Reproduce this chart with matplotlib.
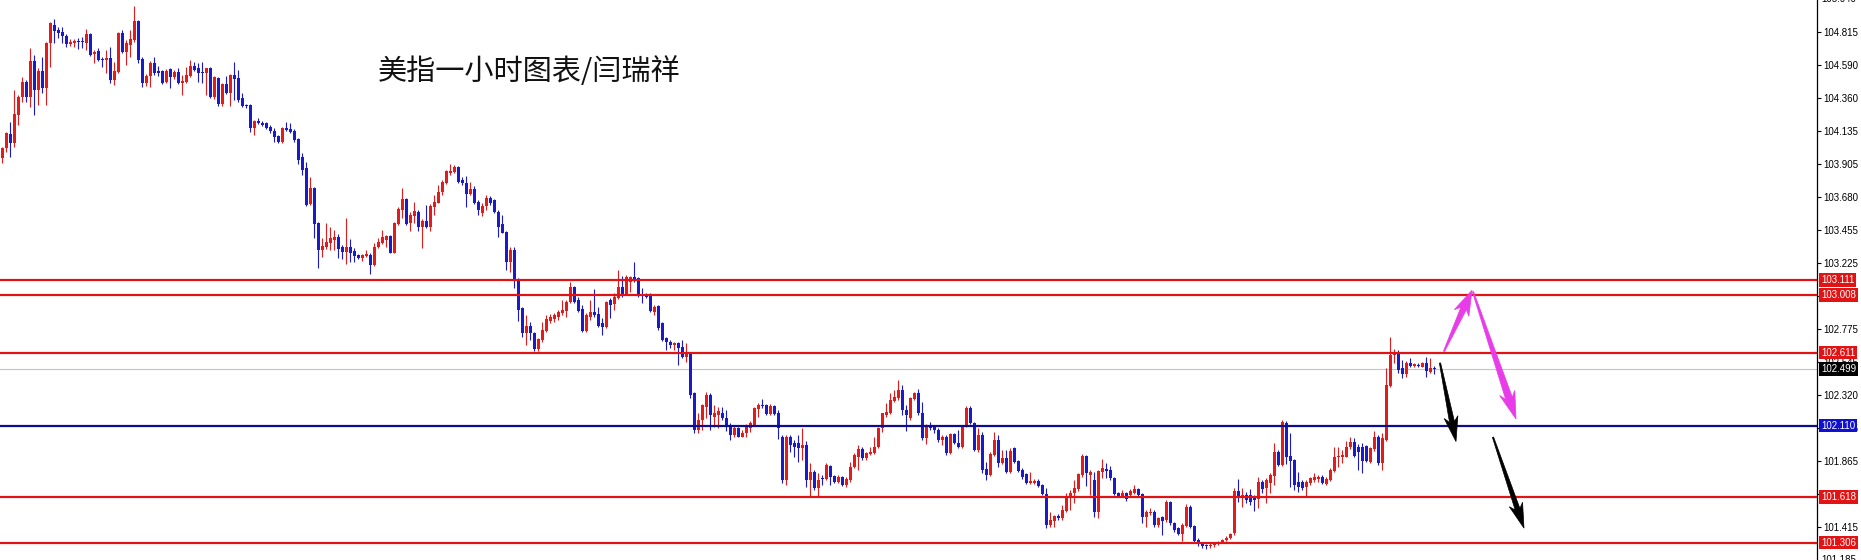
import numpy as np
import matplotlib
matplotlib.use('Agg')
import matplotlib.pyplot as plt
from matplotlib.patches import Polygon

plt.rcParams['font.family'] = ['Liberation Sans', 'DejaVu Sans']

# 美指一小时K线 (开 / 高 / 低 / 收)
opens = [
    103.947, 104.016, 104.112, 104.050, 104.245, 104.371, 104.474, 104.371, 104.616, 104.416,
    104.547, 104.428, 104.737, 104.863, 104.829, 104.813, 104.788, 104.730, 104.742, 104.753,
    104.753, 104.742, 104.801, 104.662, 104.687, 104.627, 104.623, 104.634, 104.485, 104.542,
    104.806, 104.680, 104.726, 104.760, 104.891, 104.630, 104.462, 104.513, 104.600, 104.549,
    104.549, 104.474, 104.558, 104.503, 104.542, 104.462, 104.474, 104.515, 104.584, 104.565,
    104.536, 104.531, 104.565, 104.371, 104.501, 104.320, 104.458, 104.398, 104.520, 104.497,
    104.359, 104.311, 104.313, 104.158, 104.206, 104.192, 104.187, 104.164, 104.137, 104.100,
    104.061, 104.158, 104.146, 104.135, 104.077, 103.954, 103.878, 103.633, 103.741, 103.505,
    103.317, 103.340, 103.367, 103.386, 103.409, 103.340, 103.306, 103.340, 103.310, 103.283,
    103.260, 103.276, 103.283, 103.214, 103.340, 103.367, 103.386, 103.413, 103.299, 103.496,
    103.592, 103.665, 103.500, 103.551, 103.581, 103.473, 103.519, 103.477, 103.615, 103.642,
    103.718, 103.780, 103.844, 103.855, 103.890, 103.798, 103.780, 103.702, 103.734, 103.649,
    103.568, 103.619, 103.671, 103.660, 103.580, 103.495, 103.442, 103.236, 103.316, 103.115,
    102.915, 102.744, 102.794, 102.748, 102.634, 102.698, 102.762, 102.831, 102.840, 102.858,
    102.881, 102.899, 102.961, 103.064, 102.973, 102.909, 102.762, 102.858, 102.893, 102.877,
    102.812, 102.785, 102.973, 102.945, 102.984, 103.060, 103.014, 103.099, 103.128, 103.122,
    103.014, 103.007, 103.007, 102.893, 102.931, 102.817, 102.709, 102.686, 102.663, 102.679,
    102.652, 102.583, 102.611, 102.331, 102.079, 102.148, 102.240, 102.320, 102.171, 102.182,
    102.194, 102.160, 102.114, 102.045, 102.091, 102.034, 102.057, 102.091, 102.114, 102.222,
    102.251, 102.251, 102.189, 102.244, 102.194, 102.034, 101.736, 102.034, 101.988, 101.988,
    101.954, 101.976, 101.736, 101.793, 101.679, 101.747, 101.740, 101.832, 101.763, 101.724,
    101.754, 101.702, 101.736, 101.828, 101.896, 101.947, 101.885, 101.915, 101.919, 101.960,
    102.091, 102.183, 102.194, 102.281, 102.297, 102.355, 102.217, 102.160, 102.290, 102.336,
    102.194, 102.022, 102.107, 102.098, 102.080, 102.011, 102.034, 101.924, 102.052, 101.992,
    101.961, 102.103, 102.229, 102.130, 101.942, 102.045, 101.809, 101.770, 101.908, 102.011,
    101.855, 101.885, 101.793, 101.954, 101.869, 101.805, 101.775, 101.718, 101.718, 101.732,
    101.702, 101.640, 101.427, 101.457, 101.489, 101.473, 101.525, 101.610, 101.644, 101.672,
    101.770, 101.901, 101.770, 101.736, 101.518, 101.793, 101.809, 101.805, 101.748, 101.644,
    101.626, 101.649, 101.633, 101.649, 101.672, 101.640, 101.484, 101.507, 101.518, 101.427,
    101.480, 101.461, 101.587, 101.443, 101.404, 101.365, 101.420, 101.553, 101.420, 101.324,
    101.301, 101.290, 101.280, 101.290, 101.298, 101.310, 101.322, 101.338, 101.369, 101.663,
    101.610, 101.633, 101.633, 101.621, 101.603, 101.724, 101.679, 101.718, 101.763, 101.931,
    101.839, 102.130, 101.901, 101.873, 101.724, 101.724, 101.685, 101.713, 101.736, 101.740,
    101.759, 101.708, 101.736, 101.800, 101.892, 101.896, 101.896, 101.960, 101.999, 101.965,
    101.965, 101.970, 101.862, 101.947, 102.034, 101.850, 102.011, 102.382, 102.595, 102.611,
    102.503, 102.464, 102.542, 102.519, 102.524, 102.515, 102.538, 102.480, 102.508,
]
highs = [
    104.027, 104.130, 104.199, 104.416, 104.382, 104.508, 104.485, 104.703, 104.657, 104.565,
    104.646, 104.749, 104.886, 104.904, 104.847, 104.847, 104.799, 104.765, 104.765, 104.772,
    104.783, 104.833, 104.806, 104.691, 104.703, 104.641, 104.691, 104.714, 104.611, 104.817,
    104.829, 104.760, 104.829, 104.994, 104.898, 104.646, 104.526, 104.616, 104.646, 104.584,
    104.554, 104.558, 104.565, 104.554, 104.565, 104.520, 104.577, 104.623, 104.611, 104.600,
    104.611, 104.570, 104.577, 104.513, 104.508, 104.467, 104.513, 104.526, 104.611, 104.554,
    104.394, 104.320, 104.320, 104.210, 104.222, 104.206, 104.199, 104.176, 104.153, 104.107,
    104.164, 104.199, 104.192, 104.146, 104.084, 103.981, 103.924, 103.816, 103.748, 103.512,
    103.397, 103.500, 103.477, 103.455, 103.427, 103.351, 103.535, 103.390, 103.329, 103.290,
    103.290, 103.317, 103.294, 103.363, 103.397, 103.455, 103.420, 103.420, 103.512, 103.610,
    103.741, 103.672, 103.581, 103.649, 103.592, 103.528, 103.626, 103.633, 103.695, 103.764,
    103.798, 103.867, 103.908, 103.901, 103.894, 103.821, 103.826, 103.787, 103.757, 103.661,
    103.637, 103.694, 103.690, 103.667, 103.591, 103.557, 103.449, 103.339, 103.339, 103.122,
    102.927, 102.870, 102.824, 102.755, 102.709, 102.824, 102.870, 102.877, 102.881, 102.904,
    102.973, 102.973, 103.099, 103.069, 102.996, 102.938, 102.881, 102.973, 103.046, 102.922,
    102.847, 102.968, 102.984, 103.019, 103.179, 103.138, 103.145, 103.138, 103.236, 103.133,
    103.053, 103.023, 103.023, 102.938, 102.938, 102.824, 102.721, 102.698, 102.686, 102.686,
    102.698, 102.675, 102.618, 102.343, 102.194, 102.258, 102.343, 102.331, 102.251, 102.240,
    102.235, 102.217, 102.125, 102.114, 102.102, 102.080, 102.121, 102.144, 102.240, 102.267,
    102.290, 102.258, 102.258, 102.251, 102.217, 102.045, 102.045, 102.045, 102.011, 102.045,
    102.091, 102.006, 101.850, 101.805, 101.782, 101.770, 101.850, 101.839, 101.770, 101.770,
    101.763, 101.754, 101.862, 101.919, 101.976, 101.965, 101.931, 101.965, 102.034, 102.102,
    102.199, 102.263, 102.332, 102.355, 102.423, 102.389, 102.251, 102.309, 102.343, 102.359,
    102.274, 102.121, 102.137, 102.107, 102.091, 102.045, 102.045, 102.061, 102.057, 102.080,
    102.114, 102.245, 102.245, 102.137, 102.091, 102.068, 101.862, 101.931, 102.068, 102.045,
    101.942, 101.942, 101.954, 101.961, 101.874, 101.816, 101.782, 101.793, 101.741, 101.741,
    101.709, 101.679, 101.518, 101.496, 101.502, 101.564, 101.644, 101.667, 101.736, 101.782,
    101.915, 101.908, 101.805, 101.793, 101.805, 101.878, 101.855, 101.832, 101.759, 101.656,
    101.667, 101.656, 101.672, 101.702, 101.679, 101.644, 101.530, 101.541, 101.530, 101.480,
    101.489, 101.599, 101.594, 101.450, 101.415, 101.438, 101.571, 101.564, 101.427, 101.335,
    101.310, 101.298, 101.300, 101.310, 101.320, 101.332, 101.350, 101.372, 101.679, 101.740,
    101.679, 101.656, 101.672, 101.633, 101.759, 101.736, 101.747, 101.782, 101.988, 101.942,
    102.148, 102.144, 102.057, 101.878, 101.793, 101.736, 101.736, 101.759, 101.786, 101.770,
    101.770, 101.759, 101.816, 101.965, 101.965, 101.942, 102.006, 102.029, 102.022, 101.983,
    101.988, 101.976, 101.965, 102.075, 102.045, 102.057, 102.503, 102.716, 102.634, 102.629,
    102.561, 102.556, 102.572, 102.542, 102.542, 102.549, 102.584, 102.572, 102.519,
]
lows = [
    103.912, 103.993, 103.958, 104.027, 104.176, 104.336, 104.336, 104.302, 104.245, 104.313,
    104.394, 104.313, 104.577, 104.742, 104.772, 104.737, 104.710, 104.721, 104.714, 104.696,
    104.703, 104.691, 104.650, 104.600, 104.618, 104.577, 104.531, 104.462, 104.451, 104.531,
    104.673, 104.588, 104.646, 104.744, 104.600, 104.439, 104.444, 104.439, 104.520, 104.513,
    104.458, 104.462, 104.428, 104.490, 104.458, 104.382, 104.462, 104.508, 104.549, 104.474,
    104.467, 104.382, 104.359, 104.352, 104.306, 104.306, 104.389, 104.306, 104.348, 104.336,
    104.302, 104.290, 104.130, 104.107, 104.183, 104.169, 104.146, 104.123, 104.061, 104.055,
    104.055, 104.137, 104.119, 104.061, 103.908, 103.833, 103.619, 103.626, 103.397, 103.191,
    103.267, 103.322, 103.317, 103.317, 103.260, 103.253, 103.221, 103.237, 103.237, 103.253,
    103.244, 103.267, 103.152, 103.207, 103.329, 103.358, 103.340, 103.294, 103.294, 103.489,
    103.535, 103.489, 103.450, 103.505, 103.450, 103.329, 103.466, 103.450, 103.558, 103.638,
    103.695, 103.771, 103.833, 103.844, 103.780, 103.764, 103.610, 103.695, 103.633, 103.558,
    103.550, 103.591, 103.626, 103.568, 103.403, 103.431, 103.179, 103.167, 103.053, 102.831,
    102.721, 102.663, 102.698, 102.624, 102.624, 102.686, 102.755, 102.817, 102.824, 102.835,
    102.870, 102.858, 102.954, 102.950, 102.893, 102.755, 102.755, 102.835, 102.858, 102.789,
    102.732, 102.778, 102.847, 102.904, 102.977, 102.991, 103.007, 103.030, 103.099, 102.996,
    102.950, 102.984, 102.893, 102.870, 102.767, 102.693, 102.629, 102.640, 102.629, 102.526,
    102.572, 102.549, 102.297, 102.056, 102.056, 102.079, 102.159, 102.079, 102.102, 102.091,
    102.148, 102.075, 102.011, 102.034, 102.029, 102.029, 102.029, 102.068, 102.107, 102.167,
    102.228, 102.183, 102.183, 102.183, 102.015, 101.713, 101.702, 101.931, 101.896, 101.862,
    101.873, 101.690, 101.626, 101.667, 101.626, 101.702, 101.736, 101.702, 101.713, 101.713,
    101.695, 101.690, 101.724, 101.816, 101.805, 101.873, 101.873, 101.908, 101.915, 101.954,
    102.068, 102.171, 102.189, 102.274, 102.286, 102.183, 102.075, 102.148, 102.286, 102.183,
    102.011, 101.983, 102.080, 102.057, 101.999, 101.976, 101.908, 101.915, 101.983, 101.954,
    101.954, 102.098, 102.121, 101.938, 101.931, 101.786, 101.736, 101.765, 101.901, 101.828,
    101.846, 101.786, 101.782, 101.855, 101.793, 101.741, 101.709, 101.709, 101.709, 101.686,
    101.633, 101.404, 101.415, 101.415, 101.461, 101.461, 101.518, 101.530, 101.580, 101.663,
    101.759, 101.695, 101.633, 101.480, 101.473, 101.748, 101.748, 101.736, 101.633, 101.622,
    101.617, 101.594, 101.626, 101.640, 101.626, 101.443, 101.415, 101.496, 101.415, 101.415,
    101.358, 101.450, 101.427, 101.381, 101.358, 101.319, 101.415, 101.404, 101.301, 101.282,
    101.268, 101.262, 101.270, 101.278, 101.290, 101.300, 101.318, 101.330, 101.360, 101.587,
    101.548, 101.576, 101.564, 101.525, 101.541, 101.644, 101.580, 101.644, 101.702, 101.832,
    101.832, 101.846, 101.690, 101.667, 101.656, 101.667, 101.621, 101.702, 101.724, 101.724,
    101.708, 101.702, 101.731, 101.793, 101.828, 101.850, 101.892, 101.947, 101.896, 101.805,
    101.782, 101.862, 101.850, 101.938, 101.839, 101.805, 102.006, 102.373, 102.538, 102.469,
    102.435, 102.442, 102.510, 102.510, 102.510, 102.510, 102.446, 102.474, 102.464,
]
closes = [
    104.016, 104.119, 104.050, 104.251, 104.371, 104.474, 104.371, 104.616, 104.416, 104.547,
    104.428, 104.737, 104.875, 104.824, 104.810, 104.788, 104.730, 104.749, 104.756, 104.749,
    104.749, 104.801, 104.657, 104.680, 104.623, 104.623, 104.634, 104.485, 104.547, 104.806,
    104.680, 104.742, 104.765, 104.891, 104.623, 104.462, 104.513, 104.600, 104.531, 104.531,
    104.462, 104.549, 104.508, 104.542, 104.462, 104.481, 104.520, 104.584, 104.554, 104.531,
    104.531, 104.565, 104.371, 104.503, 104.320, 104.458, 104.398, 104.520, 104.494, 104.348,
    104.306, 104.306, 104.158, 104.206, 104.192, 104.176, 104.153, 104.137, 104.096, 104.061,
    104.158, 104.142, 104.130, 104.073, 103.935, 103.867, 103.626, 103.741, 103.496, 103.317,
    103.347, 103.374, 103.402, 103.409, 103.322, 103.306, 103.335, 103.299, 103.276, 103.260,
    103.283, 103.290, 103.214, 103.340, 103.374, 103.404, 103.413, 103.299, 103.500, 103.597,
    103.665, 103.496, 103.558, 103.587, 103.477, 103.519, 103.477, 103.619, 103.649, 103.718,
    103.787, 103.862, 103.862, 103.890, 103.787, 103.775, 103.702, 103.734, 103.638, 103.592,
    103.619, 103.671, 103.637, 103.580, 103.477, 103.435, 103.236, 103.316, 103.110, 102.904,
    102.744, 102.794, 102.744, 102.634, 102.702, 102.767, 102.840, 102.858, 102.870, 102.893,
    102.904, 102.961, 103.064, 102.961, 102.899, 102.762, 102.870, 102.893, 102.870, 102.794,
    102.785, 102.961, 102.938, 102.996, 103.060, 103.007, 103.128, 103.133, 103.110, 103.007,
    103.000, 102.996, 102.899, 102.927, 102.778, 102.698, 102.686, 102.663, 102.679, 102.640,
    102.583, 102.618, 102.320, 102.079, 102.148, 102.251, 102.320, 102.182, 102.194, 102.212,
    102.160, 102.102, 102.045, 102.091, 102.034, 102.061, 102.102, 102.125, 102.228, 102.251,
    102.244, 102.189, 102.244, 102.189, 102.091, 101.736, 102.034, 101.976, 101.965, 101.954,
    101.976, 101.736, 101.793, 101.679, 101.736, 101.740, 101.839, 101.759, 101.724, 101.759,
    101.702, 101.740, 101.828, 101.908, 101.947, 101.885, 101.924, 101.931, 101.965, 102.091,
    102.194, 102.206, 102.286, 102.304, 102.355, 102.217, 102.183, 102.297, 102.336, 102.194,
    102.022, 102.107, 102.091, 102.080, 102.011, 102.029, 101.919, 102.052, 101.988, 101.965,
    102.103, 102.229, 102.130, 101.942, 102.045, 101.805, 101.770, 101.915, 102.011, 101.855,
    101.885, 101.793, 101.938, 101.862, 101.800, 101.759, 101.718, 101.732, 101.732, 101.695,
    101.640, 101.427, 101.461, 101.489, 101.473, 101.530, 101.617, 101.649, 101.679, 101.777,
    101.901, 101.782, 101.793, 101.518, 101.800, 101.816, 101.800, 101.748, 101.640, 101.626,
    101.649, 101.603, 101.663, 101.672, 101.633, 101.484, 101.518, 101.518, 101.427, 101.473,
    101.457, 101.587, 101.438, 101.392, 101.365, 101.427, 101.553, 101.415, 101.319, 101.301,
    101.285, 101.280, 101.292, 101.300, 101.312, 101.325, 101.340, 101.365, 101.663, 101.610,
    101.633, 101.598, 101.587, 101.598, 101.724, 101.672, 101.736, 101.770, 101.931, 101.839,
    102.137, 101.896, 101.869, 101.702, 101.690, 101.679, 101.724, 101.747, 101.759, 101.759,
    101.718, 101.740, 101.805, 101.896, 101.901, 101.908, 101.965, 101.999, 101.901, 101.931,
    101.869, 101.869, 101.954, 102.034, 101.850, 102.022, 102.389, 102.595, 102.611, 102.492,
    102.464, 102.542, 102.519, 102.533, 102.517, 102.542, 102.487, 102.508, 102.499,
]

# 水平线 (阻力/支撑) 与当前价
levels = [103.111, 103.008, 102.611, 102.110, 101.618, 101.306]
level_colors = ['#e01414', '#e01414', '#e01414', '#0c0c8c', '#e01414', '#e01414']
bid = 102.499

# 右侧价格刻度
yticks = [104.815, 104.590, 104.360, 104.135, 103.905, 103.680, 103.455, 103.225, 103.000,
          102.775, 102.545, 102.320, 102.095, 101.865, 101.640, 101.415]
edge_ticks = [105.040, 101.185]

# 箭头 (K线序号, 价格)
arrows = [
    ((360.5, 102.62), (367.5, 103.04), '#e83ce8', 6, 16, 20),
    ((367.75, 103.03), (378.5, 102.155), '#e83ce8', 7, 16, 22),
    ((359.5, 102.54), (363.5, 102.00), 'black', 5, 14, 20),
    ((372.75, 102.03), (380.5, 101.405), 'black', 5, 14, 20),
]

title = '美指一小时图表/闫瑞祥'

o = np.array(opens)
h = np.array(highs)
l = np.array(lows)
c = np.array(closes)
assert len(o) == len(h) == len(l) == len(c)
x = np.arange(len(c))
cols = np.where(c >= o, '#e01c1c', '#1a1ac8')

fig = plt.figure(figsize=(18.61, 5.6), dpi=100)
ax = fig.add_axes([0, 0, 1817 / 1861, 1])
ax.set_xlim(-0.5, 453.75)
ax.set_ylim(101.186, 105.035)

# 当前价线
ax.axhline(bid, color='#c4c4c4', lw=0.8, zorder=0.5)

# K线
ax.vlines(x, l, h, colors=cols, lw=0.8, zorder=1)
body_lo = np.minimum(o, c)
body_h = np.maximum(np.abs(c - o), 0.007)
ax.bar(x, body_h, bottom=body_lo, width=0.75, color=cols, lw=0, zorder=1.2)

# 水平线
for p, col in zip(levels, level_colors):
    ax.axhline(p, color=col, lw=1.6, zorder=3)

# 坐标轴
for s in ['left', 'top', 'bottom']:
    ax.spines[s].set_visible(False)
ax.spines['right'].set_color('black')
ax.spines['right'].set_linewidth(0.9)
ax.set_xticks([])
ax.yaxis.tick_right()
ax.set_yticks(yticks)
ax.set_yticklabels(['%.3f' % t for t in yticks])
ax.tick_params(axis='y', direction='out', length=3, width=0.8, pad=1.5, labelsize=7,
               colors='black')
tr = ax.get_yaxis_transform()
for t in edge_ticks:
    ax.text(1.0025, t, '%.3f' % t, transform=tr, ha='left', va='center', fontsize=7,
            clip_on=False)

# 价格标签
for p, col in zip(levels, level_colors):
    if col == '#0c0c8c':
        col = '#1010d0'
    ax.text(1.0022, p, '%.3f' % p, transform=tr, ha='left', va='center', fontsize=7,
            color='white', clip_on=False, zorder=5,
            bbox=dict(boxstyle='square,pad=0.18', fc=col, ec='none'))
ax.text(1.0022, bid, '%.3f' % bid, transform=tr, ha='left', va='center', fontsize=7,
        color='white', clip_on=False, zorder=5,
        bbox=dict(boxstyle='square,pad=0.18', fc='black', ec='none'))


def taper_arrow(tail, tip, color, sw, hw, hl):
    p0 = ax.transData.transform(tail)
    p1 = ax.transData.transform(tip)
    d = (p1 - p0) / np.hypot(*(p1 - p0))
    nrm = np.array([-d[1], d[0]])
    b = p1 - d * hl
    back = hl * 0.25
    pts = [p0 + nrm * 0.6, b + nrm * sw / 2, b - d * back + nrm * hw / 2, p1,
           b - d * back - nrm * hw / 2, b - nrm * sw / 2, p0 - nrm * 0.6]
    pts = ax.transData.inverted().transform(np.array(pts))
    ax.add_patch(Polygon(pts, closed=True, fc=color, ec=color, lw=0.5, zorder=6,
                         clip_on=False))


for a in arrows:
    taper_arrow(*a)

fig.text(378 / 1861, 1 - 72 / 560, title, fontsize=21, ha='left', va='center',
         color='#111111', family=['Noto Sans CJK SC', 'DejaVu Sans'])

fig.savefig('out.png', dpi=100)
